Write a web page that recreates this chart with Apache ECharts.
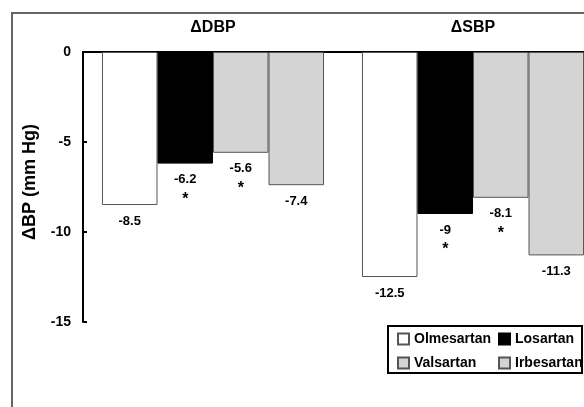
<!DOCTYPE html>
<html>
<head>
<meta charset="utf-8">
<script src="https://cdn.jsdelivr.net/npm/echarts@6/dist/echarts.min.js"></script>
<style>html,body{margin:0;padding:0;background:#fff}#c{width:584px;height:407px}</style>
</head>
<body>
<div id="c"></div>
<script>
var categories = ['\u0394DBP', '\u0394SBP'];
var drugs = ['Olmesartan', 'Losartan', 'Valsartan', 'Irbesartan'];
var olmesartan = [-8.5, -12.5];
var losartan = [-6.2, -9];
var valsartan = [-5.6, -8.1];
var irbesartan = [-7.4, -11.3];
var significant = [false, true, true, false];
var yTicks = [0, -5, -10, -15];
var yName = '\u0394BP (mm Hg)';

var values = [olmesartan, losartan, valsartan, irbesartan];
var fills = ['#ffffff', '#000000', '#d4d4d4', '#d4d4d4'];
var borders = ['#555555', '#000000', '#555555', '#555555'];
var FONT = 'Liberation Sans';

var chart = echarts.init(document.getElementById('c'), null, {renderer: 'canvas'});
var series = drugs.map(function (d, i) {
  return {
    name: d,
    type: 'bar',
    data: values[i],
    barGap: '0%',
    barCategoryGap: '14.6%',
    itemStyle: {color: fills[i], borderColor: borders[i], borderWidth: 1},
    label: {
      show: true,
      position: 'bottom',
      distance: 7,
      formatter: function (p) {
        return significant[i] ? '{v|' + p.value + '}\n{s|*}' : '{v|' + p.value + '}';
      },
      rich: {
        v: {fontFamily: FONT, fontWeight: 'bold', fontSize: 13, color: '#000', lineHeight: 18},
        s: {fontFamily: FONT, fontWeight: 'bold', fontSize: 16, color: '#000', lineHeight: 22}
      }
    }
  };
});

chart.setOption({
  animation: false,
  backgroundColor: '#fff',
  grid: {left: 83, width: 520, top: 52, height: 270, containLabel: false, outerBoundsMode: 'none'},
  xAxis: {
    type: 'category',
    data: categories,
    position: 'top',
    axisLine: {show: true, onZero: false, lineStyle: {color: '#000', width: 2}},
    axisTick: {show: false},
    axisLabel: {fontFamily: FONT, fontWeight: 'bold', fontSize: 16, color: '#000', margin: 16}
  },
  yAxis: {
    type: 'value',
    min: -15,
    max: 0,
    interval: 5,
    name: yName,
    nameLocation: 'middle',
    nameGap: 44,
    nameTextStyle: {fontFamily: FONT, fontWeight: 'bold', fontSize: 18, color: '#000', padding: [0, 0, 0, 10]},
    axisLine: {show: true, lineStyle: {color: '#000', width: 2}},
    axisTick: {show: true, inside: true, length: 4, lineStyle: {color: '#000', width: 2}},
    splitLine: {show: false},
    axisLabel: {fontFamily: FONT, fontWeight: 'bold', fontSize: 14, color: '#000', margin: 12,
      formatter: function (v) { return yTicks.indexOf(v) >= 0 ? String(v) : ''; }}
  },
  legend: [
    {
      data: [drugs[0], drugs[2]],
      orient: 'vertical',
      left: 397, top: 332, padding: 0,
      itemWidth: 11, itemHeight: 11, itemGap: 10,
      icon: 'rect',
      textStyle: {fontFamily: FONT, fontWeight: 'bold', fontSize: 14, color: '#000'}
    },
    {
      data: [drugs[1], drugs[3]],
      orient: 'vertical',
      left: 498, top: 332, padding: 0,
      itemWidth: 11, itemHeight: 11, itemGap: 10,
      icon: 'rect',
      textStyle: {fontFamily: FONT, fontWeight: 'bold', fontSize: 14, color: '#000'}
    }
  ],
  graphic: [
    {type: 'rect', shape: {x: 12, y: 13, width: 700, height: 500}, style: {fill: 'none', stroke: '#666', lineWidth: 2}, silent: true, z: -1},
    {type: 'rect', shape: {x: 388, y: 326, width: 194, height: 47}, style: {fill: 'none', stroke: '#000', lineWidth: 2}, silent: true}
  ],
  series: series
});
</script>
</body>
</html>
